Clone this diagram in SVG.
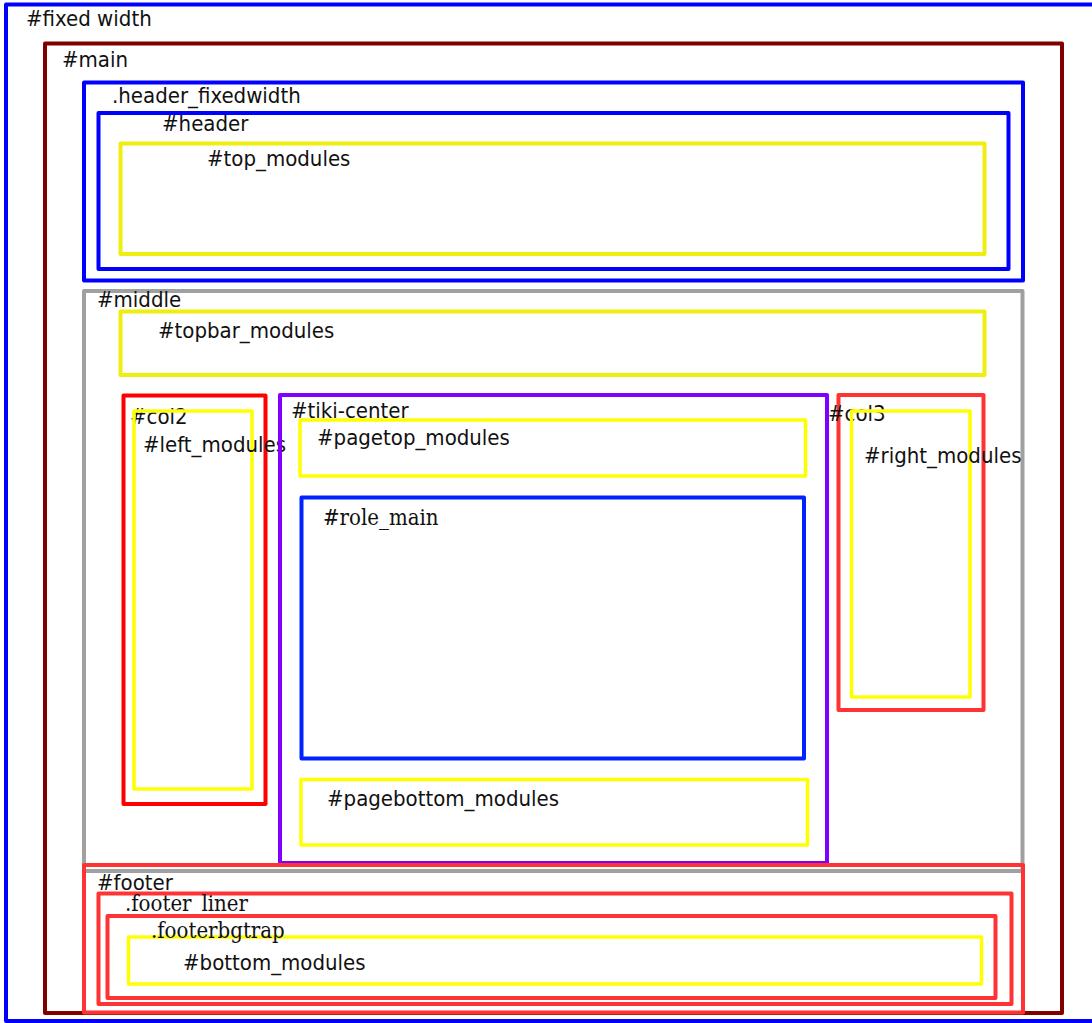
<svg xmlns="http://www.w3.org/2000/svg" width="1092" height="1023" viewBox="0 0 1092 1023">
<style>
rect{fill:none;stroke-width:4;stroke-linejoin:round}
.blue{stroke:#0000ff}
.maroon{stroke:#800000}
.gray{stroke:#a0a0a0}
.red{stroke:#ff0000}
.lred{stroke:#ff3333}
.purple{stroke:#8000ff}
.rblue{stroke:#0022ff}
.ylw{stroke:#ffff00;stroke-width:3.5}
.gylw{stroke:#eeee11;stroke-width:4}
text{font-family:"DejaVu Sans Condensed","DejaVu Sans",sans-serif;font-stretch:condensed;font-size:22px;fill:#111}
text.serif{font-family:"DejaVu Serif Condensed","DejaVu Serif",serif}
</style>
<rect width="1092" height="1023" fill="#fff" stroke="none"/>
<g id="fixed_width">
<rect class="blue" x="6" y="4.5" width="1100" height="1016.5"/>
<text x="26" y="26">#fixed width</text>
<g id="main">
<rect class="maroon" x="45" y="43.5" width="1017" height="969.5"/>
<text x="62" y="66.5">#main</text>
<g id="header_fixedwidth">
<rect class="blue" x="84" y="82.5" width="939" height="198"/>
<text x="112" y="103">.header_fixedwidth</text>
<g id="header">
<rect class="blue" x="98.5" y="113" width="910" height="156"/>
<text x="162" y="131">#header</text>
<g id="top_modules">
<rect class="gylw" x="120.5" y="143.5" width="864" height="110.5"/>
<text x="207" y="165.5">#top_modules</text>
</g>
</g>
</g>
<g id="middle">
<rect class="gray" x="84" y="291" width="938.5" height="580"/>
<text x="97" y="307">#middle</text>
<g id="topbar_modules">
<rect class="gylw" x="120.5" y="311.5" width="864" height="63.5"/>
<text x="158" y="338">#topbar_modules</text>
</g>
<g id="col2">
<rect class="red" x="123.5" y="395.5" width="142" height="408.5"/>
<text x="130" y="424">#col2</text>
<g id="left_modules">
<rect class="ylw" x="134" y="411" width="118" height="378"/>
<text x="143" y="451.5">#left_modules</text>
</g>
</g>
<g id="tiki-center">
<rect class="purple" x="280" y="395" width="547" height="468"/>
<text x="291" y="417.5">#tiki-center</text>
<g id="pagetop_modules">
<rect class="ylw" x="300" y="420" width="505.5" height="56"/>
<text x="317" y="445">#pagetop_modules</text>
</g>
<g id="role_main">
<rect class="rblue" x="301.5" y="497.5" width="502.5" height="261"/>
<text class="serif" x="323" y="525">#role_main</text>
</g>
<g id="pagebottom_modules">
<rect class="ylw" x="301" y="779.5" width="506.5" height="65.5"/>
<text x="327" y="806">#pagebottom_modules</text>
</g>
</g>
<g id="col3">
<rect class="lred" x="838.5" y="395" width="145" height="315"/>
<text x="828" y="420.5">#col3</text>
<g id="right_modules">
<rect class="ylw" x="851.5" y="411" width="118.5" height="286"/>
<text x="864" y="463">#right_modules</text>
</g>
</g>
</g>
<g id="footer">
<rect class="lred" x="84" y="865" width="939" height="147.5"/>
<text x="97" y="890">#footer</text>
<g id="footer_liner">
<rect class="lred" x="98.5" y="893.5" width="913" height="110.5"/>
<text class="serif" x="125" y="910.5">.footer_liner</text>
<g id="footerbgtrap">
<rect class="lred" x="107.5" y="916" width="888" height="82"/>
<g id="bottom_modules">
<rect class="ylw" x="128.5" y="937" width="853" height="47"/>
<text x="183" y="970">#bottom_modules</text>
</g>
<text class="serif" x="151" y="938">.footerbgtrap</text>
</g>
</g>
</g>
</g>
</g>
<g id="connectors"/>
</svg>
